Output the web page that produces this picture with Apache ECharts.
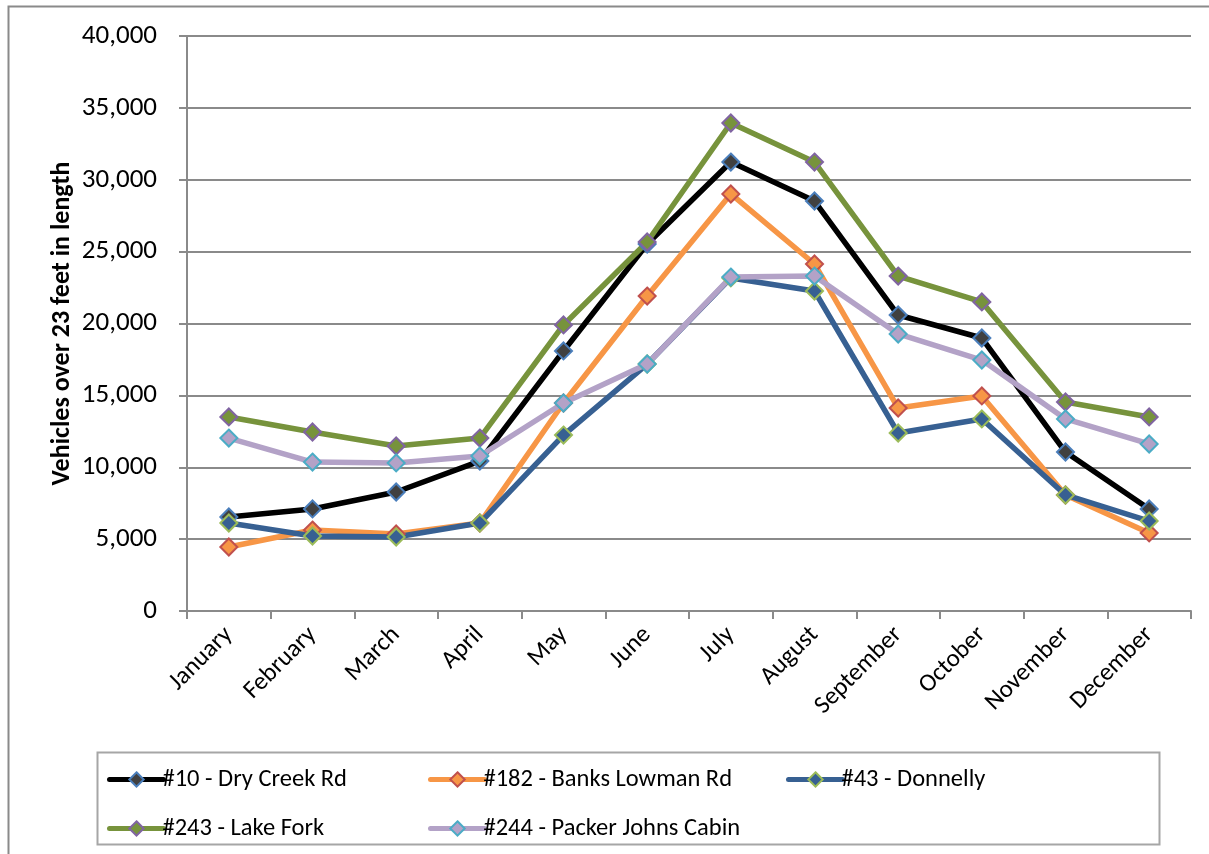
<!DOCTYPE html>
<html>
<head>
<meta charset="utf-8">
<script src="https://cdn.jsdelivr.net/npm/echarts@6/dist/echarts.min.js"></script>
<style>
html,body{margin:0;padding:0;background:#fff;}
#chart{width:1209px;height:854px;}
</style>
</head>
<body>
<div id="chart"></div>
<script>
const months = ["January","February","March","April","May","June","July","August","September","October","November","December"];
const seriesNames = ["#10 - Dry Creek Rd","#182 - Banks Lowman Rd","#43 - Donnelly","#243 - Lake Fork","#244 - Packer Johns Cabin"];
const dryCreek    = [6540, 7100, 8280, 10430, 18090, 25530, 31230, 28520, 20590, 18990, 11060, 7100];
const banksLowman = [4450, 5630, 5360, 6120, 14470, 21910, 29010, 24140, 14120, 14960, 8070, 5430];
const donnelly    = [6120, 5220, 5150, 6120, 12240, 17180, 23170, 22260, 12380, 13360, 8070, 6260];
const lakeFork    = [13500, 12450, 11480, 12030, 19900, 25670, 33950, 31230, 23300, 21500, 14540, 13500];
const packerJohns = [12030, 10360, 10300, 10780, 14470, 17180, 23230, 23300, 19270, 17460, 13360, 11620];
const yTicks = [0, 5000, 10000, 15000, 20000, 25000, 30000, 35000, 40000];

const FONT = "Carlito, 'Noto Sans', sans-serif";
const styles = [
  {line:"#000000", fill:"#404040", border:"#4A7EBB"},
  {line:"#F79646", fill:"#F79646", border:"#C0504D"},
  {line:"#376092", fill:"#376092", border:"#9BBB59"},
  {line:"#77933C", fill:"#77933C", border:"#8064A2"},
  {line:"#B3A2C7", fill:"#B3A2C7", border:"#4BACC6"}
];
const dataSets = [dryCreek, banksLowman, donnelly, lakeFork, packerJohns];

const series = dataSets.map((d, i) => ({
  name: seriesNames[i],
  type: "line",
  data: d,
  symbol: "diamond",
  symbolSize: 17,
  showAllSymbol: true,
  lineStyle: {color: styles[i].line, width: 5.5},
  itemStyle: {color: styles[i].fill, borderColor: styles[i].border, borderWidth: 2},
  emphasis: {disabled: true},
  animation: false
}));

const legendPos = [
  {left: 102, top: 762},
  {left: 423, top: 762},
  {left: 781, top: 762},
  {left: 102, top: 811},
  {left: 423, top: 811}
];
const legends = seriesNames.map((n, i) => ({
  data: [n],
  left: legendPos[i].left,
  top: legendPos[i].top,
  itemWidth: 54,
  itemHeight: 18,
  itemGap: 0,
  lineStyle: {width: 5, cap: "round"},
  textStyle: {fontFamily: FONT, fontSize: 24.5, color: "#000", padding: [0,0,0,-6]},
  selectedMode: false
}));

const chart = echarts.init(document.getElementById("chart"), null, {renderer: "canvas"});
chart.setOption({
  backgroundColor: "#fff",
  animation: false,
  graphic: [
    {type: "rect", shape: {x: 8.5, y: 6.5, width: 1300, height: 900}, style: {fill: "none", stroke: "#8a8a8a", lineWidth: 2}, silent: true, z: -10},
    {type: "rect", shape: {x: 97.5, y: 752.5, width: 1062, height: 92}, style: {fill: "none", stroke: "#a6a6a6", lineWidth: 2}, silent: true, z: -10}
  ],
  grid: {left: 187, right: 18, top: 36, bottom: 243, containLabel: false},
  legend: legends,
  xAxis: {
    type: "category",
    data: months,
    boundaryGap: true,
    axisLine: {show: true, lineStyle: {color: "#8a8a8a", width: 2}},
    axisTick: {show: true, length: 8, lineStyle: {color: "#8a8a8a", width: 2}},
    axisLabel: {rotate: 45, interval: 0, margin: 20, fontFamily: FONT, fontSize: 25, color: "#000"},
    splitLine: {show: false}
  },
  yAxis: {
    type: "value",
    min: 0, max: 40000, interval: 5000,
    name: "Vehicles over 23 feet in length",
    nameLocation: "middle",
    nameGap: 112,
    nameMoveOverlap: false,
    nameTextStyle: {fontFamily: FONT, fontSize: 26, fontWeight: "bold", color: "#000"},
    axisLine: {show: true, lineStyle: {color: "#8a8a8a", width: 2}},
    axisTick: {show: true, length: 8, lineStyle: {color: "#8a8a8a", width: 2}},
    axisLabel: {
      margin: 30, fontFamily: FONT, fontSize: 27, color: "#000",
      formatter: v => yTicks.includes(v) ? v.toLocaleString("en-US") : ""
    },
    splitLine: {show: true, lineStyle: {color: "#8a8a8a", width: 2}}
  },
  series: series
});
</script>
</body>
</html>
